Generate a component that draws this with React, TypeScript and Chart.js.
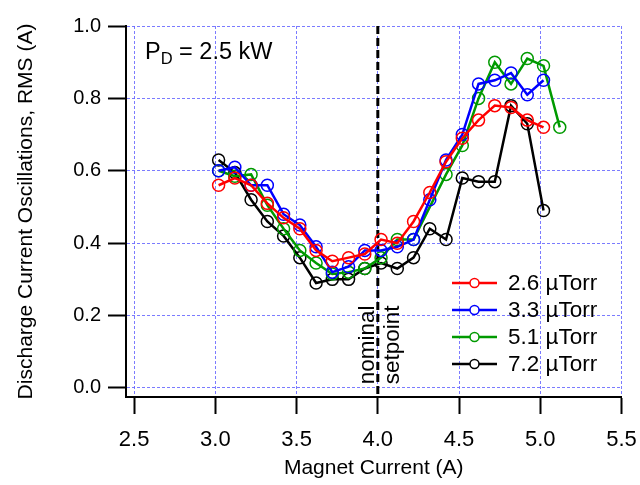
import React, { useEffect, useRef } from 'react';
import { Chart, registerables } from 'chart.js';

Chart.register(...registerables);

// ---- data ----
const X_MAIN = [3.02, 3.12, 3.22, 3.32, 3.42, 3.52, 3.62, 3.72, 3.82, 3.92, 4.02, 4.12, 4.22, 4.32, 4.42, 4.52, 4.62, 4.72, 4.82, 4.92, 5.02];
const RED_26 = [0.56, 0.58, 0.56, 0.51, 0.47, 0.44, 0.38, 0.35, 0.36, 0.37, 0.41, 0.40, 0.46, 0.54, 0.625, 0.69, 0.74, 0.78, 0.775, 0.74, 0.72];
const BLUE_33 = [0.60, 0.61, 0.56, 0.56, 0.48, 0.45, 0.39, 0.32, 0.335, 0.38, 0.38, 0.39, 0.41, 0.52, 0.63, 0.70, 0.84, 0.85, 0.87, 0.81, 0.85];
const X_GREEN = [3.02, 3.12, 3.22, 3.32, 3.42, 3.52, 3.62, 3.72, 3.82, 3.92, 4.02, 4.12, 4.22, 4.42, 4.52, 4.62, 4.72, 4.82, 4.92, 5.02, 5.12];
const GREEN_51 = [0.60, 0.585, 0.59, 0.505, 0.44, 0.38, 0.345, 0.315, 0.32, 0.33, 0.36, 0.41, 0.41, 0.59, 0.67, 0.80, 0.90, 0.84, 0.91, 0.89, 0.72];
const BLACK_72 = [0.63, 0.595, 0.52, 0.46, 0.42, 0.36, 0.29, 0.30, 0.30, 0.33, 0.345, 0.33, 0.36, 0.44, 0.41, 0.58, 0.57, 0.57, 0.78, 0.73, 0.49];

const SERIES_LABELS = ['2.6 \u00B5Torr', '3.3 \u00B5Torr', '5.1 \u00B5Torr', '7.2 \u00B5Torr'];
const SERIES_COLORS = ['#ff0000', '#0000ff', '#009a00', '#000000'];

const X_TICKS = [2.5, 3.0, 3.5, 4.0, 4.5, 5.0, 5.5];
const Y_TICKS = [0.0, 0.2, 0.4, 0.6, 0.8, 1.0];
const SETPOINT = 4.0;
const ANNOT_LEFT = 'nominal';
const ANNOT_RIGHT = 'setpoint';

const FONT = '"Liberation Sans", Arial, Helvetica, sans-serif';
const GRID = 'rgba(100, 100, 255, 0.85)';

function pts(xs: number[], ys: number[]) {
  return xs.map((x, i) => ({ x, y: ys[i] }));
}

const overlayPlugin = {
  id: 'overlay',
  beforeDatasetsDraw(chart: any) {
    const { ctx, chartArea, scales } = chart;
    const px = scales.x.getPixelForValue(SETPOINT);
    ctx.save();
    ctx.strokeStyle = '#000';
    ctx.lineWidth = 3;
    ctx.setLineDash([8, 4]);
    ctx.beginPath();
    ctx.moveTo(px, chartArea.top);
    ctx.lineTo(px, chartArea.bottom);
    ctx.stroke();
    ctx.setLineDash([]);

    // rotated annotation
    ctx.fillStyle = '#000';
    ctx.font = `22.5px ${FONT}`;
    const yStart = scales.y.getPixelForValue(0.01);
    ctx.save();
    ctx.translate(px - 4, yStart);
    ctx.rotate(-Math.PI / 2);
    ctx.textAlign = 'left';
    ctx.textBaseline = 'alphabetic';
    ctx.fillText(ANNOT_LEFT, 0, 0);
    ctx.restore();
    ctx.save();
    ctx.translate(px + 21, yStart);
    ctx.rotate(-Math.PI / 2);
    ctx.textAlign = 'left';
    ctx.textBaseline = 'alphabetic';
    ctx.fillText(ANNOT_RIGHT, 0, 0);
    ctx.restore();
    ctx.restore();
  },
  afterDatasetsDraw(chart: any) {
    const { ctx, chartArea } = chart;
    ctx.save();
    // P_D label
    const tx = chartArea.left + 19;
    const ty = chartArea.top + 33;
    ctx.fillStyle = '#000';
    ctx.textBaseline = 'alphabetic';
    ctx.textAlign = 'left';
    ctx.font = `23.5px ${FONT}`;
    ctx.fillText('P', tx, ty);
    let w = ctx.measureText('P').width;
    ctx.font = `16.5px ${FONT}`;
    ctx.fillText('D', tx + w, ty + 5);
    w += ctx.measureText('D').width;
    ctx.font = `23.5px ${FONT}`;
    ctx.fillText(' = 2.5 kW', tx + w, ty);

    // legend
    const lx0 = chartArea.left + 326;
    const lx1 = lx0 + 45;
    const ly0 = chartArea.top + 257;
    const step = 27;
    chart.data.datasets.forEach((ds: any, i: number) => {
      const y = ly0 + i * step;
      ctx.strokeStyle = ds.borderColor;
      ctx.lineWidth = 2.5;
      ctx.beginPath();
      ctx.moveTo(lx0, y);
      ctx.lineTo(lx1, y);
      ctx.stroke();
      ctx.lineWidth = 1.5;
      ctx.beginPath();
      ctx.arc((lx0 + lx1) / 2, y, 4.5, 0, Math.PI * 2);
      ctx.fillStyle = '#fff';
      ctx.fill();
      ctx.stroke();
      ctx.fillStyle = '#000';
      ctx.font = `22.5px ${FONT}`;
      ctx.textBaseline = 'middle';
      ctx.fillText(ds.label, lx1 + 11, y + 1);
    });
    ctx.restore();
  },
};

export default function App() {
  const ref = useRef<HTMLCanvasElement | null>(null);

  useEffect(() => {
    document.body.style.margin = '0';
    const canvas = ref.current;
    if (!canvas) return;
    const series = [
      pts(X_MAIN, RED_26),
      pts(X_MAIN, BLUE_33),
      pts(X_GREEN, GREEN_51),
      pts(X_MAIN, BLACK_72),
    ];
    const chart = new Chart(canvas, {
      type: 'line',
      data: {
        datasets: series.map((data, i) => ({
          label: SERIES_LABELS[i],
          data,
          borderColor: SERIES_COLORS[i],
          backgroundColor: 'rgba(0,0,0,0)',
          borderWidth: 2.5,
          pointRadius: 6,
          pointBorderWidth: 1.5,
          pointBackgroundColor: 'rgba(0,0,0,0)',
          pointBorderColor: SERIES_COLORS[i],
          pointStyle: 'circle',
          tension: 0,
          fill: false,
        })),
      },
      options: {
        responsive: false,
        animation: false,
        events: [],
        layout: { autoPadding: false, padding: { top: 26, right: 18.5, left: 0, bottom: 0 } } as any,
        plugins: { legend: { display: false }, tooltip: { enabled: false } },
        scales: {
          x: {
            type: 'linear',
            min: 2.45,
            max: 5.5,
            afterBuildTicks: (s: any) => { s.ticks = X_TICKS.map((v) => ({ value: v })); },
            afterFit: (s: any) => { s.height = 88; s.paddingLeft = 0; s.paddingRight = 0; },
            grid: { color: GRID, lineWidth: 1, drawTicks: true, tickLength: 17, tickColor: '#000', tickWidth: 2, tickBorderDash: [] } as any,
            border: { display: true, color: '#000', width: 2, dash: [3, 2] },
            ticks: {
              color: '#000',
              font: { family: FONT, size: 22 },
              padding: 13,
              maxRotation: 0,
              callback: (v: any) => Number(v).toFixed(1),
            },
            title: { display: true, text: 'Magnet Current (A)', color: '#000', font: { family: FONT, size: 21 }, padding: { top: 0, bottom: 4 } },
          },
          y: {
            type: 'linear',
            min: -0.025,
            max: 1.0,
            afterBuildTicks: (s: any) => { s.ticks = Y_TICKS.map((v) => ({ value: v })); },
            afterFit: (s: any) => { s.width = 126; s.paddingTop = 0; s.paddingBottom = 0; },
            grid: { color: GRID, lineWidth: 1, drawTicks: true, tickLength: 18, tickColor: '#000', tickWidth: 2, tickBorderDash: [] } as any,
            border: { display: true, color: '#000', width: 2, dash: [3, 2] },
            ticks: {
              color: '#000',
              font: { family: FONT, size: 20 },
              padding: 7,
              callback: (v: any) => Number(v).toFixed(1),
            },
            title: { display: true, text: 'Discharge Current Oscillations, RMS (A)', color: '#000', font: { family: FONT, size: 21 }, padding: { top: 14, bottom: 0 } },
          },
        },
      },
      plugins: [overlayPlugin],
    });
    return () => chart.destroy();
  }, []);

  return (
    <div style={{ position: 'fixed', left: 0, top: 0, width: 640, height: 485, background: '#fff' }}>
      <canvas ref={ref} width={640} height={485} style={{ display: 'block', width: 640, height: 485 }} />
    </div>
  );
}
